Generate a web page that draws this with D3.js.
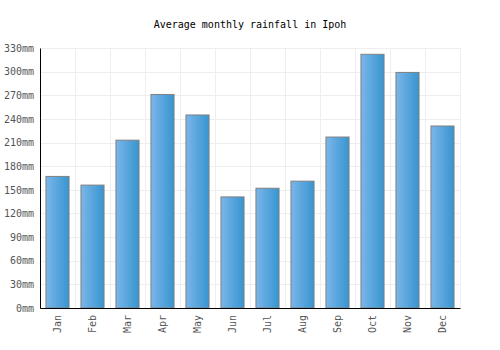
<!DOCTYPE html>
<html lang="en">
<head>
    <meta charset="UTF-8">
    <title>Average monthly rainfall in Ipoh</title>
    <script src="https://d3js.org/d3.v7.min.js"></script>
    <style>
        body { margin: 0; background: #fff; }
        text { font-family: "DejaVu Sans Mono", monospace; }
    </style>
</head>
<body>
    <div id="chart"></div>

    <script>
        const months = ["Jan", "Feb", "Mar", "Apr", "May", "Jun", "Jul", "Aug", "Sep", "Oct", "Nov", "Dec"];
        const rainfall = [167, 156, 213, 271, 245, 141, 152, 161, 217, 322, 299, 231];
        const yTicks = [0, 30, 60, 90, 120, 150, 180, 210, 240, 270, 300, 330];

        const margin = { top: 48, right: 40, bottom: 42, left: 40 },
              width = 500 - margin.left - margin.right,
              height = 350 - margin.top - margin.bottom;

        const svg = d3.select("#chart")
            .append("svg")
            .attr("width", 500)
            .attr("height", 350);

        const defs = svg.append("defs");
        const grad = defs.append("linearGradient")
            .attr("id", "barGrad")
            .attr("x1", "0%").attr("x2", "100%")
            .attr("y1", "0%").attr("y2", "0%");
        grad.append("stop").attr("offset", "0%").attr("stop-color", "#7ab6ea");
        grad.append("stop").attr("offset", "100%").attr("stop-color", "#3795cf");

        svg.append("text")
            .attr("x", margin.left + width / 2)
            .attr("y", 28)
            .attr("text-anchor", "middle")
            .style("font-size", "10px")
            .attr("fill", "#000")
            .text("Average monthly rainfall in Ipoh");

        const g = svg.append("g")
            .attr("transform", `translate(${margin.left},${margin.top})`);

        const x = d3.scaleBand().domain(months).range([0, width]).padding(0);
        const y = d3.scaleLinear().domain([0, 330]).range([height, 0]);

        // grid
        g.append("g")
            .selectAll("line.h")
            .data(yTicks)
            .join("line")
            .attr("x1", 0).attr("x2", width)
            .attr("y1", d => Math.round(y(d)) + 0.5)
            .attr("y2", d => Math.round(y(d)) + 0.5)
            .attr("stroke", "#eeeeee");

        g.append("g")
            .selectAll("line.v")
            .data(months.slice(1).concat(["end"]))
            .join("line")
            .attr("x1", (d, i) => Math.round(x.step() * (i + 1)) + 0.5)
            .attr("x2", (d, i) => Math.round(x.step() * (i + 1)) + 0.5)
            .attr("y1", 0).attr("y2", height)
            .attr("stroke", "#eeeeee");

        // bars
        const barW = x.bandwidth() * 0.66;
        g.selectAll("rect.bar")
            .data(rainfall)
            .join("rect")
            .attr("class", "bar")
            .attr("x", (d, i) => x(months[i]) + (x.bandwidth() - barW) / 2)
            .attr("y", d => y(d))
            .attr("width", barW)
            .attr("height", d => height - y(d))
            .attr("fill", "url(#barGrad)")
            .attr("stroke", "#808080")
            .attr("stroke-width", 1);

        // y axis
        const yAxis = g.append("g")
            .call(d3.axisLeft(y).tickValues(yTicks).tickSize(0).tickPadding(6).tickFormat(d => d + "mm"));
        yAxis.select(".domain").attr("stroke", "#000");
        yAxis.selectAll("text").attr("fill", "#555").style("font-size", "10px");

        // x axis
        const xAxis = g.append("g")
            .attr("transform", `translate(0,${height})`)
            .call(d3.axisBottom(x).tickSize(0).tickPadding(0));
        xAxis.select(".domain").attr("stroke", "#000");
        xAxis.selectAll("text")
            .attr("fill", "#555")
            .style("font-size", "10px")
            .attr("transform", "rotate(-90)")
            .attr("x", -7)
            .attr("y", 0)
            .attr("dy", "0.35em")
            .style("text-anchor", "end");
    </script>
</body>
</html>
